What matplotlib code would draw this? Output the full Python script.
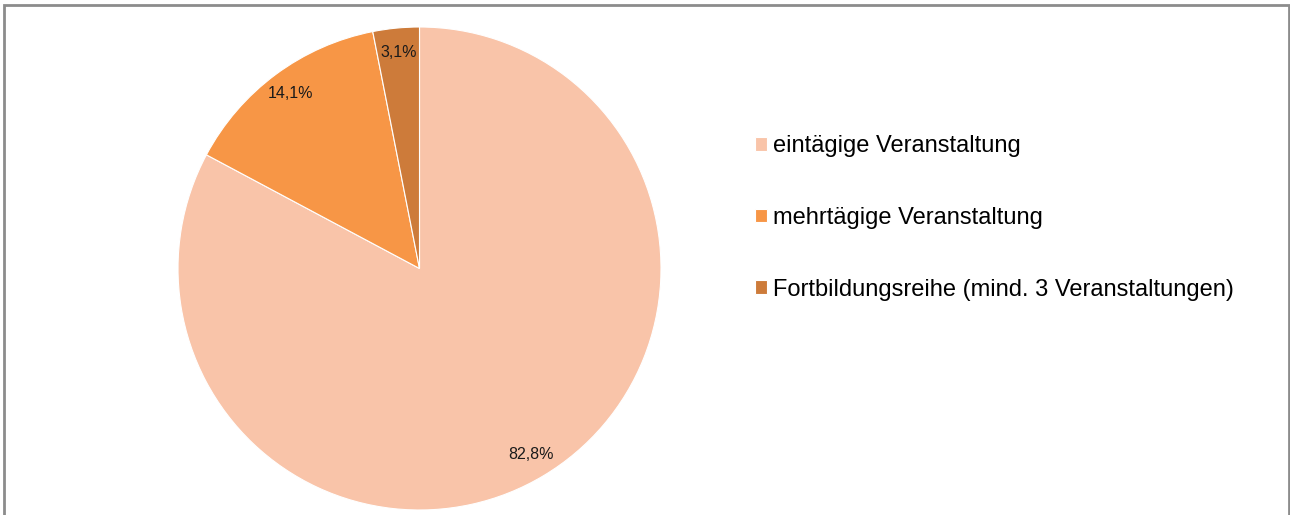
import numpy as np
import matplotlib.pyplot as plt
from matplotlib.patches import Rectangle

plt.rcParams['font.family'] = ['Liberation Sans', 'DejaVu Sans']

# data
categories = ["eintägige Veranstaltung",
              "mehrtägige Veranstaltung",
              "Fortbildungsreihe (mind. 3 Veranstaltungen)"]
shares = [82.8, 14.1, 3.1]
pct_labels = ["82,8%", "14,1%", "3,1%"]
colors = ["#F9C4A9", "#F79646", "#CD7B3A"]

W, H = 1290, 515
fig = plt.figure(figsize=(W / 100, H / 100), dpi=100)

# grey chart frame (bottom edge runs off the image)
fig.patches.append(Rectangle((4 / W, -0.05), (1285 / W), (H - 5) / H + 0.05,
                             transform=fig.transFigure, fill=False,
                             edgecolor="#8C8C8C", linewidth=2))

# pie axes: centre ~ (419.5, 268.5) px, radius ~241.5 px
r = 241.5
cx, cy = 419.5, H - 268.5
ax = fig.add_axes([(cx - r) / W, (cy - r) / H, 2 * r / W, 2 * r / H])
wedges, _ = ax.pie(shares, colors=colors, startangle=90, counterclock=False,
                   wedgeprops=dict(edgecolor="white", linewidth=0.8))
ax.set_xlim(-1, 1)
ax.set_ylim(-1, 1)

# percentage labels at 0.9 of the radius
for w, lab in zip(wedges, pct_labels):
    ang = np.deg2rad((w.theta1 + w.theta2) / 2)
    ax.text(0.9 * np.cos(ang), 0.9 * np.sin(ang), lab, ha="center", va="center",
            fontsize=11.5, color="#1a1a1a")

fig.legend(wedges, categories, loc="upper left",
           bbox_to_anchor=(746 / W, 1 - 126 / H), frameon=False,
           fontsize=17, handlelength=0.51, handleheight=0.51,
           handletextpad=0.25, labelspacing=2.1, borderaxespad=0)

fig.savefig("out.png", dpi=100, facecolor="white")
